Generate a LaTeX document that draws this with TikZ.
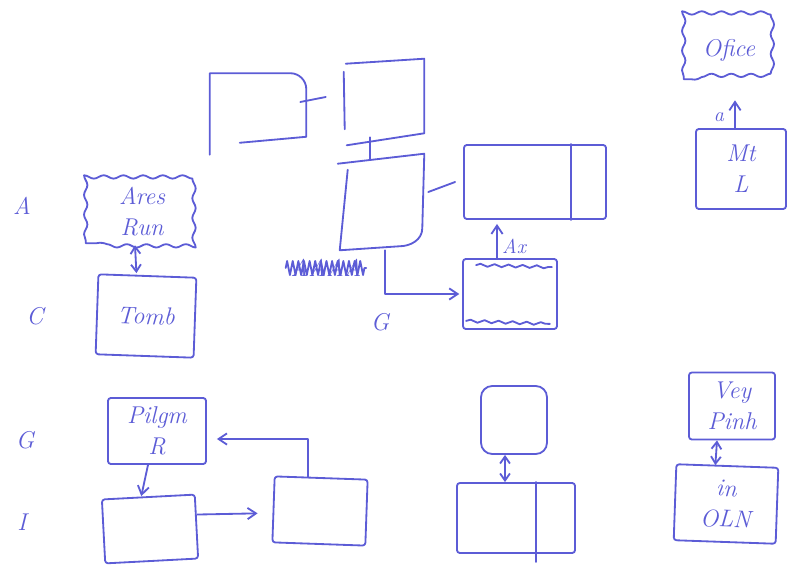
\documentclass[tikz,border=0pt]{standalone}
\usepackage{tikz}
\usetikzlibrary{
  arrows.meta,              % 箭头样式
  calc,                     % 坐标计算
  positioning,              % 节点相对定位
  decorations.pathmorphing  % 波浪边框、涂改线
}
\definecolor{pen}{RGB}{92,92,214}
\def\pxu{0.025cm}
\tikzset{
  pen line/.style={
    draw=pen,
    line width=1.3pt,
    line cap=round,
    line join=round
  },
  box/.style={
    pen line,
    rectangle,
    rounded corners=2pt,
    align=center,
    text=pen,
    font=\LARGE\itshape
  },
  ghost/.style={
    rectangle,
    inner sep=0pt,
    align=center,
    text=pen,
    font=\LARGE\itshape
  },
  wavy/.style={
    pen line,
    decorate,
    decoration={snake, amplitude=1.2pt, segment length=14pt,
      pre length=2pt, post length=2pt}
  },
  link/.style={
    pen line,
    -{Straight Barb[length=6pt, width=8pt]}
  },
  dlink/.style={
    pen line,
    {Straight Barb[length=5pt, width=7pt]}-{Straight Barb[length=5pt, width=7pt]}
  },
  margin/.style={
    text=pen,
    font=\LARGE\itshape
  },
  note/.style={
    text=pen,
    font=\Large\itshape
  }
}

\begin{document}
\begin{tikzpicture}[x=\pxu, y=-\pxu]
  \useasboundingbox (0,0) rectangle (801,571);

  % ==== 1. 左侧行标 ====
  \node[margin] (rowa) at (22,206) {A};
  \node[margin] (rowc) at (35,316) {C};
  \node[margin] (rowg) at (25,440) {G};
  \node[margin] (rowi) at (22,522) {I};

  % ==== 2. 上方中部草图框 ====
  \node[ghost, minimum width=96*\pxu, minimum height=63*\pxu] (b1) at (258,105) {};
  \draw[pen line] ($(b1.south west)+(0,18)$) -- (b1.north west)
    -- ($(b1.north east)+(-16,0)$) to[out=0, in=90] ($(b1.north east)+(0,16)$)
    -- (b1.south east) -- ($(b1.south west)+(30,6)$);

  \node[ghost, minimum width=80*\pxu, minimum height=74*\pxu] (b2) at (384,96) {};
  \draw[pen line] ($(b2.north west)+(0,13)$) -- ($(b2.south west)+(1,-4)$);
  \draw[pen line] ($(b2.north west)+(2,5)$) -- (b2.north east)
    -- (b2.south east) -- ($(b2.south west)+(3,12)$);

  \node[ghost, minimum width=84*\pxu, minimum height=96*\pxu] (b3) at (382,202) {};
  \draw[pen line] ($(b3.north west)+(8,16)$) -- (b3.south west)
    -- ($(b3.south east)+(-25,-4)$) to[out=0, in=-90] ($(b3.south east)+(-2,-22)$)
    -- (b3.north east) -- ($(b3.north west)+(-2,10)$);

  \node[box, minimum width=142*\pxu, minimum height=74*\pxu] (b4) at (535,182) {};
  \draw[pen line] ($(b4.north east)+(-36,0)$) -- ($(b4.south east)+(-36,0)$);

  \node[box, minimum width=94*\pxu, minimum height=70*\pxu] (b5) at (510,294) {};
  % 框内波浪线
  \draw[pen line, decorate, decoration={snake, amplitude=1pt, segment length=10pt}]
    ($(b5.north west)+(14,7)$) -- ($(b5.north east)+(-6,9)$);
  \draw[pen line, decorate, decoration={snake, amplitude=1pt, segment length=10pt}]
    ($(b5.south west)+(4,-9)$) -- ($(b5.south east)+(-8,-6)$);

  % 连线
  \draw[pen line] ($(b1.east)+(-6,-3)$) -- ($(b2.west)+(-18,1)$);
  \draw[pen line] ($(b2.south)+(-14,4)$) -- ($(b3.north)+(-12,6)$);
  \draw[pen line] ($(b3.east)+(4,-10)$) -- ($(b4.west)+(-8,0)$);
  \draw[link, shorten >=2pt] ($(b3.south)+(3,0)$) |- (b5.west);
  \draw[link] ($(b5.north)+(-13,0)$) -- ($(b4.south)+(-38,4)$);
  \node[note] (ax) at (514,246) {Ax};

  % 涂掉的字
  \node[margin] (scrib) at (326,268) {AAAA};
  \draw[pen line, decorate, decoration={zigzag, amplitude=5pt, segment length=4pt}]
    (scrib.west) -- (scrib.east);
  \node[margin] (midg) at (380,322) {G};

  % ==== 3. 左侧 A、C 行 ====
  \node[ghost, minimum width=112*\pxu, minimum height=62*\pxu] (ares) at (142,212) {Ares\\Run};
  \draw[wavy] (ares.south west) rectangle (ares.north east);
  \node[box, minimum width=98*\pxu, minimum height=80*\pxu, rotate=-2] (tomb) at (146,316) {Tomb};
  \draw[dlink] ($(ares.south)+(-7,2)$) -- ($(tomb.north)+(-11,-2)$);

  % ==== 4. 右上角 ====
  \node[ghost, minimum width=90*\pxu, minimum height=58*\pxu] (ofc) at (729,50) {Ofice};
  \draw[wavy] (ofc.south west) rectangle (ofc.north east);
  \node[box, minimum width=90*\pxu, minimum height=80*\pxu] (mtl) at (741,169) {Mt\\L};
  \draw[link] ($(mtl.north)+(-6,0)$) -- ($(ofc.south)+(6,21)$);
  \node[note] (lbla) at (719,117) {a};

  % ==== 5. 下方 G、I 行 ====
  \node[box, minimum width=98*\pxu, minimum height=66*\pxu] (pil) at (157,431) {Pilgm\\R};
  \node[box, minimum width=93*\pxu, minimum height=64*\pxu, rotate=3] (bl) at (150,529) {};
  \node[box, minimum width=93*\pxu, minimum height=66*\pxu, rotate=-2] (bm) at (320,511) {};
  \draw[link] ($(pil.south)+(-9,0)$) -- ($(bl.north)+(-7,0)$);
  \draw[link] ($(bl.east)+(0,-12)$) -- ($(bm.west)+(-15,4)$);
  \draw[link] ($(bm.north)+(-13,0)$) |- ($(pil.east)+(10,8)$);

  % ==== 6. 下方中部 ====
  \node[box, rounded corners=8pt, minimum width=66*\pxu, minimum height=68*\pxu] (mt) at (514,420) {};
  \node[box, minimum width=118*\pxu, minimum height=70*\pxu] (mb) at (516,518) {};
  \draw[pen line] ($(mb.north east)+(-40,0)$) -- ($(mb.south east)+(-40,8)$);
  \draw[dlink] ($(mt.south)+(-9,0)$) -- ($(mb.north)+(-11,0)$);

  % ==== 7. 右下角 ====
  \node[box, minimum width=86*\pxu, minimum height=67*\pxu] (vey) at (732,406) {Vey\\Pinh};
  \node[box, minimum width=102*\pxu, minimum height=76*\pxu, rotate=-2] (oln) at (726,504) {in\\OLN};
  \draw[dlink] ($(vey.south)+(-15,0)$) -- ($(oln.north)+(-12,0)$);

\end{tikzpicture}
\end{document}
